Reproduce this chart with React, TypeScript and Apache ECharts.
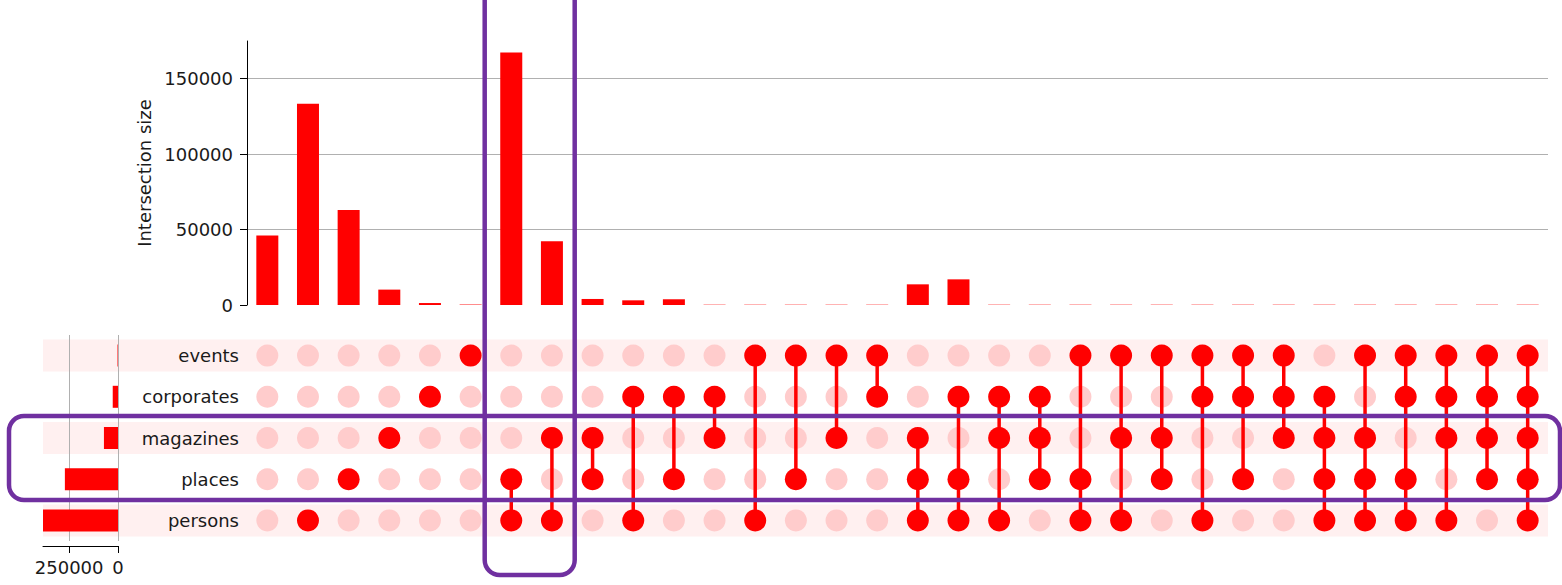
import React, { useEffect, useRef } from "react";
import * as echarts from "echarts";

const sets = ["events", "corporates", "magazines", "places", "persons"];
const setTotals = [2500, 27000, 72000, 272000, 384000];

const combos: string[][] = [
  [],
  ["persons"],
  ["places"],
  ["magazines"],
  ["corporates"],
  ["events"],
  ["places", "persons"],
  ["magazines", "persons"],
  ["magazines", "places"],
  ["corporates", "persons"],
  ["corporates", "places"],
  ["corporates", "magazines"],
  ["events", "persons"],
  ["events", "places"],
  ["events", "magazines"],
  ["events", "corporates"],
  ["magazines", "places", "persons"],
  ["corporates", "places", "persons"],
  ["corporates", "magazines", "persons"],
  ["corporates", "magazines", "places"],
  ["events", "places", "persons"],
  ["events", "magazines", "persons"],
  ["events", "magazines", "places"],
  ["events", "corporates", "persons"],
  ["events", "corporates", "places"],
  ["events", "corporates", "magazines"],
  ["corporates", "magazines", "places", "persons"],
  ["events", "magazines", "places", "persons"],
  ["events", "corporates", "places", "persons"],
  ["events", "corporates", "magazines", "persons"],
  ["events", "corporates", "magazines", "places"],
  ["events", "corporates", "magazines", "places", "persons"],
];

const intersectionSizes = [
  46000, 133400, 62900, 10200, 1300, 300, 167400, 42300, 4000, 3100, 3800,
  200, 200, 200, 200, 200, 13700, 17000, 200, 200, 200, 200, 200, 200, 200,
  200, 200, 200, 200, 200, 200, 200,
];

const barTicks = [0, 50000, 100000, 150000];
const totalTicks = [0, 250000];

const FONT = "DejaVu Sans";
const TEXT = "#1a1a1a";
const RED = "#ff0000";
const FAINT = "#ffcccc";
const STRIPE = "#fff0f0";
const PURPLE = "#7030a0";

const plain = (v: number) => String(v);

export default function App() {
  const ref = useRef<HTMLDivElement>(null);
  useEffect(() => {
    if (!ref.current) return;
    const chart = echarts.init(ref.current, null, { renderer: "svg" });
    const cats = combos.map((c, i) => (c.length ? c.join("&") : "none" + i));

    const active: number[][] = [];
    const inactive: number[][] = [];
    const links: number[][] = [];
    combos.forEach((c, i) => {
      const idx: number[] = [];
      sets.forEach((s, j) => {
        if (c.includes(s)) {
          active.push([i, j]);
          idx.push(j);
        } else inactive.push([i, j]);
      });
      if (idx.length >= 2) links.push([i, Math.min(...idx), Math.max(...idx)]);
    });

    const stripeData = sets.map((_, j) => (j % 2 === 0 ? 1 : "-"));

    const option: any = {
      animation: false,
      textStyle: { fontFamily: FONT },
      grid: [
        { left: 247, right: 14, top: 41, bottom: 280 },
        { left: 247, right: 14, top: 335, height: 206 },
        { left: 43, width: 75, top: 335, height: 206 },
        { left: 43, right: 14, top: 335, height: 206 },
      ],
      xAxis: [
        {
          gridIndex: 0,
          type: "category",
          data: cats,
          boundaryGap: true,
          axisLine: { show: false },
          axisTick: { show: false },
          axisLabel: { show: false },
        },
        {
          gridIndex: 1,
          type: "category",
          data: cats,
          boundaryGap: true,
          axisLine: { show: false },
          axisTick: { show: false },
          axisLabel: { show: false },
        },
        {
          gridIndex: 2,
          type: "value",
          inverse: true,
          min: 0,
          max: 384000,
          interval: 250000,
          offset: 5,
          z: 1,
          axisLine: { show: true, lineStyle: { color: "#000", width: 1 } },
          axisTick: {
            show: true,
            length: 7,
            lineStyle: { color: "#000" },
            customValues: totalTicks,
          },
          axisLabel: {
            fontSize: 18,
            color: TEXT,
            margin: 12,
            fontFamily: FONT,
            customValues: totalTicks,
            formatter: plain,
          },
          splitLine: {
            show: true,
            lineStyle: { color: "#b0b0b0", width: 1 },
          },
        },
        {
          gridIndex: 3,
          type: "value",
          min: 0,
          max: 1,
          show: false,
        },
      ],
      yAxis: [
        {
          gridIndex: 0,
          type: "value",
          min: 0,
          max: 175000,
          interval: 50000,
          name: "Intersection size",
          nameLocation: "middle",
          nameGap: 86,
          nameTextStyle: { fontSize: 18, color: TEXT, fontFamily: FONT },
          axisLine: { show: true, lineStyle: { color: "#000", width: 1 } },
          axisTick: {
            show: true,
            length: 7,
            lineStyle: { color: "#000" },
            customValues: barTicks,
          },
          axisLabel: {
            fontSize: 18,
            color: TEXT,
            margin: 14,
            fontFamily: FONT,
            customValues: barTicks,
            formatter: plain,
          },
          splitLine: {
            show: true,
            showMinLine: false,
            lineStyle: { color: "#b0b0b0", width: 1 },
          },
        },
        {
          gridIndex: 1,
          type: "category",
          data: sets,
          inverse: true,
          axisLine: { show: false },
          axisTick: { show: false },
          axisLabel: {
            fontSize: 18,
            color: TEXT,
            margin: 8,
            fontFamily: FONT,
          },
        },
        {
          gridIndex: 2,
          type: "category",
          data: sets,
          inverse: true,
          show: false,
        },
        {
          gridIndex: 3,
          type: "category",
          data: sets,
          inverse: true,
          show: false,
        },
      ],
      series: [
        {
          type: "bar",
          xAxisIndex: 3,
          yAxisIndex: 3,
          data: stripeData,
          barWidth: 32,
          itemStyle: { color: STRIPE },
          silent: true,
          z: 0,
        },
        {
          type: "bar",
          xAxisIndex: 0,
          yAxisIndex: 0,
          data: intersectionSizes,
          barWidth: 22,
          itemStyle: { color: RED },
          z: 2,
        },
        {
          type: "bar",
          xAxisIndex: 2,
          yAxisIndex: 2,
          data: setTotals,
          barWidth: 22,
          itemStyle: { color: RED },
          z: 2,
        },
        {
          type: "scatter",
          xAxisIndex: 1,
          yAxisIndex: 1,
          data: inactive,
          symbolSize: 22,
          itemStyle: { color: FAINT, opacity: 1 },
          z: 2,
        },
        {
          type: "custom",
          xAxisIndex: 1,
          yAxisIndex: 1,
          data: links,
          encode: { x: 0, y: [1, 2] },
          z: 3,
          renderItem: (params: any, api: any) => {
            const x = api.value(0);
            const p1 = api.coord([x, api.value(1)]);
            const p2 = api.coord([x, api.value(2)]);
            return {
              type: "line",
              shape: { x1: p1[0], y1: p1[1], x2: p2[0], y2: p2[1] },
              style: { stroke: RED, lineWidth: 3.5 },
            };
          },
        },
        {
          type: "scatter",
          xAxisIndex: 1,
          yAxisIndex: 1,
          data: active,
          symbolSize: 22,
          itemStyle: { color: RED, opacity: 1 },
          z: 4,
        },
      ],
      graphic: [
        {
          type: "rect",
          z: 100,
          shape: { x: 484.7, y: -30, width: 90, height: 605, r: 15 },
          style: { fill: "none", stroke: PURPLE, lineWidth: 4.5 },
          silent: true,
        },
        {
          type: "rect",
          z: 100,
          shape: { x: 9, y: 416, width: 1551, height: 84, r: 15 },
          style: { fill: "none", stroke: PURPLE, lineWidth: 4.5 },
          silent: true,
        },
      ],
    };
    chart.setOption(option);
    return () => chart.dispose();
  }, []);
  return (
    <div
      ref={ref}
      style={{ position: "absolute", left: 0, top: 0, width: 1562, height: 585 }}
    />
  );
}
